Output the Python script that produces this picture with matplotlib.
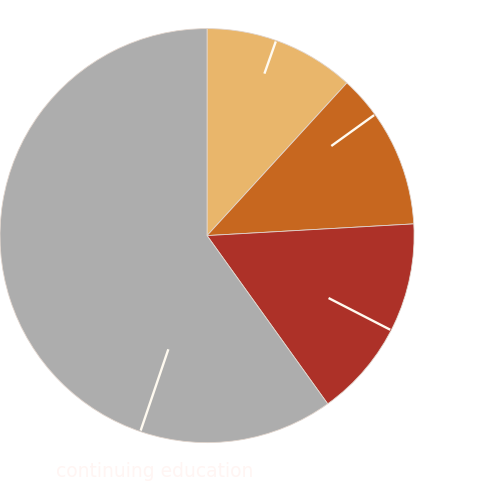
import numpy as np
import matplotlib
matplotlib.use("Agg")
import matplotlib.pyplot as plt

# slice shares, clockwise from 12 o'clock
categories = ["a", "b", "c", "continuing education"]
shares = [11.8, 12.3, 16.0, 59.9]
colors = ["#E9B66B", "#C7671F", "#AD3128", "#ADADAD"]

# leader lines (angle in degrees, inner radius) - labels are white on white in the original
leader_angles = [70.5, 35.8, -27.2, -108.8]
leader_inner = [0.83, 0.74, 0.66, 0.58]

fig = plt.figure(figsize=(5, 4.85), dpi=100)
ax = fig.add_axes([0, 0, 1, 1])

ax.pie(shares, colors=colors, startangle=90, counterclock=False, radius=1,
       wedgeprops=dict(edgecolor="#E2D6CE", linewidth=0.6))

for ang, r0 in zip(leader_angles, leader_inner):
    a = np.deg2rad(ang)
    ax.plot([r0 * np.cos(a), 0.995 * np.cos(a)], [r0 * np.sin(a), 0.995 * np.sin(a)],
            color="#FFFAF0", lw=1.7, solid_capstyle="butt")

ax.text(-0.251, -1.137, categories[3], ha="center", va="center",
        fontsize=13.5, color="#FFF5F3")

ax.set_xlim(-1.0, 1.415)
ax.set_ylim(-1.2, 1.143)
ax.set_aspect("auto")
ax.axis("off")

fig.savefig("out.png", dpi=100)
